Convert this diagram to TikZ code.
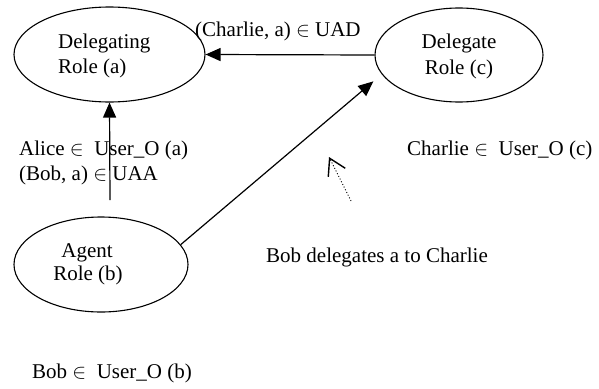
\documentclass[tikz,border=0pt]{standalone}
\usepackage{fontspec}
\setmainfont{Liberation Serif}
\usetikzlibrary{shapes.geometric,arrows.meta}
\begin{document}
\begin{tikzpicture}[x=1pt,y=-1pt,
  every node/.style={font=\fontsize{21}{25}\selectfont},
  role/.style={draw,ellipse,line width=1.1pt,inner sep=0pt},
  txt/.style={inner sep=0pt,anchor=base west},
  ctxt/.style={inner sep=0pt,anchor=base},
  conn/.style={line width=1.2pt,-{Triangle[length=15pt,width=13pt]}},
  dotconn/.style={line width=0.9pt,dash pattern=on 1pt off 2pt,
    -{Straight Barb[length=16pt,width=19pt,line width=1.4pt]}}]
\useasboundingbox (0,0) rectangle (599,388);
% roles
\node[role,minimum width=191pt,minimum height=95pt] (dA) at (109.5,54.5) {};
\node[role,minimum width=168pt,minimum height=94pt] (dC) at (459,55) {};
\node[role,minimum width=174pt,minimum height=95pt] (dB) at (101,264.5) {};
% role texts
\node[txt] (tA1) at (58,48) {Delegating};
\node[txt] (tA2) at (58,73) {Role (a)};
\node[ctxt] (tC1) at (459,48) {Delegate};
\node[ctxt] (tC2) at (459,74) {Role (c)};
\node[ctxt] (tB1) at (87,257) {Agent};
\node[ctxt] (tB2) at (88,280) {Role (b)};
% labels
\node[txt] (lUAD) at (195,36) {(Charlie, a) $\in$ UAD};
\node[txt] (lAlice) at (19,155) {Alice $\in$ \ User\_O (a)};
\node[txt] (lUAA) at (19,180) {(Bob, a) $\in$ UAA};
\node[txt] (lCharlie) at (407,155) {Charlie $\in$ \ User\_O (c)};
\node[txt] (lDel) at (266,262) {Bob delegates a to Charlie};
\node[txt] (lBob) at (32,378) {Bob $\in$ \ User\_O (b)};
% connectors
\coordinate (vb) at (110,200);
\coordinate (ds) at (351,201);
\coordinate (de) at (329,157);
\draw[conn] (dC.west) -- (dA.east);
\draw[conn] (vb) -- (dA.south);
\draw[conn,shorten >=11pt] (dB.14) -- (dC.194.5);
\draw[dotconn] (ds) -- (de);
\end{tikzpicture}
\end{document}
